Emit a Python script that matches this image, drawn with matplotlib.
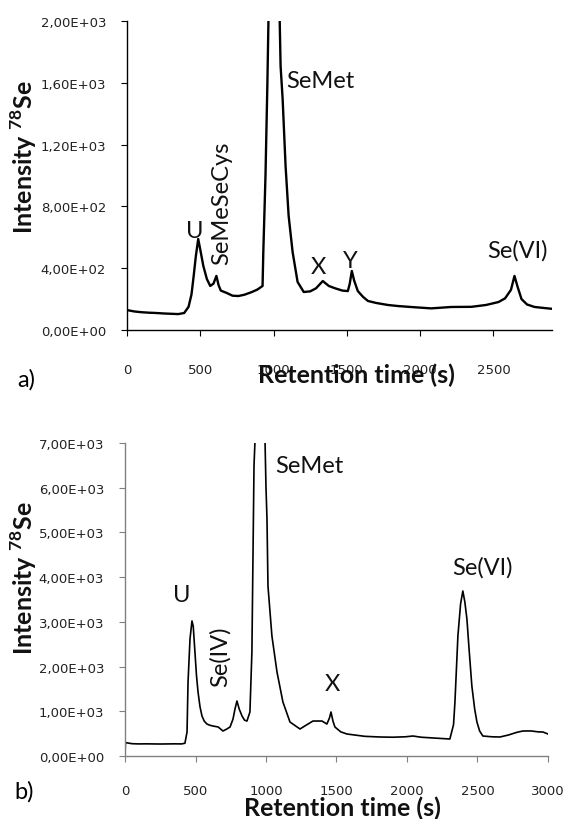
import matplotlib
matplotlib.use("Agg")
import matplotlib.pyplot as plt

plt.rcParams['mathtext.fontset'] = 'custom'
plt.rcParams['mathtext.rm'] = 'Lato'
plt.rcParams['mathtext.bf'] = 'Lato:bold'

# panel a) chromatogram
time_a = [0, 50, 100, 150, 200, 250, 300, 350, 390, 420, 440, 455, 470, 486, 500,
          521, 545, 568, 590, 610, 625, 640, 680, 720, 760, 800, 850, 890, 925,
          930, 945, 958, 966, 1003, 1041, 1048, 1062, 1082, 1103, 1130, 1164, 1206,
          1250, 1290, 1336, 1377, 1420, 1470, 1507, 1520, 1534, 1550, 1575, 1610,
          1644, 1700, 1780, 1850, 1950, 2076, 2213, 2350, 2450, 2535, 2580, 2620,
          2644, 2665, 2692, 2730, 2781, 2850, 2911]
inten_a = [129, 120, 115, 112, 110, 107, 105, 103, 110, 150, 230, 350, 480, 589, 520,
           414, 330, 285, 300, 350, 290, 255, 240, 222, 220, 228, 245, 262, 285,
           500, 1000, 1600, 2050, 5000, 2050, 1709, 1495, 1062, 738, 505, 311, 246,
           250, 270, 317, 285, 270, 255, 252, 300, 382, 320, 252, 215,
           188, 175, 162, 155, 148, 140, 149, 150, 162, 181, 205, 260,
           350, 280, 200, 165, 149, 142, 136]

# panel b) chromatogram
time_b = [0, 3, 50, 100, 150, 200, 250, 300, 350, 400, 425, 440, 447, 461, 475, 484,
          496, 507, 518, 532, 546, 562, 581, 600, 624, 660, 695, 720, 745, 766, 780,
          794, 810, 830, 848, 865, 886, 900, 908, 915, 922, 957, 993, 1000, 1007,
          1014, 1042, 1078, 1120, 1170, 1241, 1290, 1333, 1397, 1432, 1450, 1461,
          1475, 1489, 1530, 1574, 1700, 1808, 1900, 1990, 2042, 2100, 2200, 2304,
          2330, 2340, 2361, 2380, 2396, 2410, 2425, 2440, 2460, 2480, 2496, 2515,
          2538, 2600, 2659, 2720, 2780, 2822, 2880, 2930, 2964, 3000]
inten_b = [0, 300, 275, 270, 272, 270, 268, 270, 272, 270, 285, 537, 1650, 2616, 3020, 2900,
           2325, 1800, 1430, 1100, 894, 780, 715, 690, 670, 650, 559, 600, 648, 827, 1050,
           1230, 1050, 894, 800, 782, 984, 2325, 4560, 6500, 7050, 12000, 7050, 6000, 5300,
           3800, 2683, 1878, 1207, 760, 604, 700, 782, 782, 715, 850, 984,
           780, 648, 540, 492, 440, 425, 420, 430, 447, 420, 400, 380,
           700, 1207, 2683, 3400, 3690, 3450, 3064, 2400, 1565, 1050, 760, 560,
           447, 430, 425, 470, 530, 559, 560, 540, 537, 492]

ticks_a_x = [0, 500, 1000, 1500, 2000, 2500]
ticks_a_y = [0, 400, 800, 1200, 1600, 2000]
ticks_b_x = [0, 500, 1000, 1500, 2000, 2500, 3000]
ticks_b_y = [0, 1000, 2000, 3000, 4000, 5000, 6000, 7000]

W, H = 564, 820


def px(x, y):
    return x / W, 1 - y / H


def sci(v):
    s = '%.2E' % v
    return s.replace('.', ',')


fig = plt.figure(figsize=(W / 100, H / 100), dpi=100)
ax1 = fig.add_axes([127 / W, 1 - 331 / H, 425 / W, 309 / H])
ax2 = fig.add_axes([125 / W, 1 - 757 / H, 423 / W, 313 / H])

ax1.plot(time_a, inten_a, color='black', lw=1.7)
ax2.plot(time_b, inten_b, color='black', lw=1.2)

ax1.set_xlim(0, 2900)
ax1.set_ylim(0, 2000)
ax2.set_xlim(0, 3000)
ax2.set_ylim(0, 7000)

for ax, xt, yt, col, xpad in [(ax1, ticks_a_x, ticks_a_y, 'black', 20),
                              (ax2, ticks_b_x, ticks_b_y, '#808080', 16)]:
    ax.set_xticks(xt)
    ax.set_yticks(yt)
    ax.set_yticklabels([sci(v) for v in yt])
    for s in ['top', 'right']:
        ax.spines[s].set_visible(False)
    for s in ['left', 'bottom']:
        ax.spines[s].set_color(col)
        ax.spines[s].set_linewidth(1.0)
    ax.tick_params(axis='x', direction='out', length=4, color=col,
                   labelsize=9.5, pad=xpad, labelcolor='#222222')
    ax.tick_params(axis='y', direction='out', length=4, color=col,
                   labelsize=9.5, pad=11, labelcolor='#222222')
    for lab in ax.get_xticklabels() + ax.get_yticklabels():
        lab.set_family('DejaVu Sans')

# axis titles
lab_kw = dict(family='Lato', fontweight='bold', fontsize=18, color='#111111',
              ha='center', va='center')
fig.text(*px(356, 375), 'Retention time (s)', **lab_kw)
fig.text(*px(342, 808), 'Retention time (s)', **lab_kw)
fig.text(*px(24, 157), r'Intensity $^{\mathbf{78}}$Se', rotation=90, **lab_kw)
fig.text(*px(24, 578), r'Intensity $^{\mathbf{78}}$Se', rotation=90, **lab_kw)

# panel letters
fig.text(*px(26, 380), 'a)', family='Lato', fontsize=17, ha='center', va='center')
fig.text(*px(24, 792), 'b)', family='Lato', fontsize=17, ha='center', va='center')

# peak names
pk = dict(family='Lato', fontsize=17, ha='center', va='center', color='#111111')
fig.text(*px(195, 231), 'U', **pk)
fig.text(*px(222, 203), 'SeMeSeCys', rotation=90, **pk)
fig.text(*px(320, 82), 'SeMet', **pk)
fig.text(*px(318, 268), 'X', **pk)
fig.text(*px(350, 262), 'Y', **pk)
fig.text(*px(517, 251), 'Se(VI)', **pk)

fig.text(*px(182, 596), 'U', **pk)
fig.text(*px(220, 657), 'Se(IV)', rotation=90, **pk)
fig.text(*px(309, 467), 'SeMet', **pk)
fig.text(*px(332, 685), 'X', **pk)
fig.text(*px(482, 568), 'Se(VI)', **pk)

fig.savefig('out.png', dpi=100)
